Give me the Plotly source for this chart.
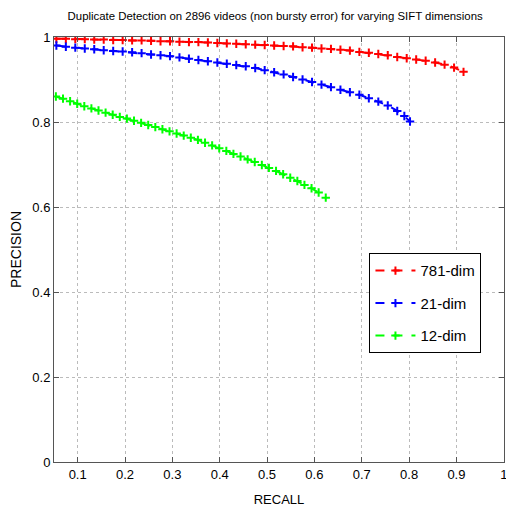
import plotly.graph_objects as go

# ---- data ----
red_x = [0.055, 0.075, 0.095, 0.115, 0.135, 0.155, 0.175, 0.195, 0.215, 0.235, 0.255, 0.275,
         0.295, 0.315, 0.335, 0.355, 0.375, 0.395, 0.415, 0.435, 0.455, 0.475, 0.495, 0.515,
         0.535, 0.555, 0.575, 0.595, 0.615, 0.635, 0.655, 0.675, 0.695, 0.715, 0.735, 0.755,
         0.775, 0.795, 0.815, 0.835, 0.855, 0.875, 0.895, 0.915]
red_y = [0.996, 0.996, 0.995, 0.995, 0.994, 0.994, 0.993, 0.993, 0.992, 0.992, 0.991, 0.990,
         0.990, 0.989, 0.988, 0.988, 0.987, 0.986, 0.985, 0.984, 0.983, 0.982, 0.981, 0.980,
         0.979, 0.978, 0.976, 0.975, 0.973, 0.972, 0.970, 0.968, 0.965, 0.963, 0.960, 0.957,
         0.953, 0.950, 0.947, 0.944, 0.940, 0.935, 0.928, 0.918]

blue_x = [0.055, 0.075, 0.095, 0.115, 0.135, 0.155, 0.175, 0.195, 0.215, 0.235, 0.255, 0.275,
          0.295, 0.315, 0.335, 0.355, 0.375, 0.395, 0.415, 0.435, 0.455, 0.475, 0.495, 0.515,
          0.535, 0.555, 0.575, 0.595, 0.615, 0.635, 0.655, 0.675, 0.695, 0.715, 0.735, 0.755,
          0.775, 0.790, 0.802]
blue_y = [0.980, 0.977, 0.975, 0.973, 0.971, 0.969, 0.967, 0.966, 0.964, 0.962, 0.959, 0.957,
          0.955, 0.952, 0.949, 0.946, 0.943, 0.940, 0.937, 0.934, 0.931, 0.927, 0.922, 0.917,
          0.912, 0.906, 0.900, 0.894, 0.888, 0.882, 0.876, 0.870, 0.864, 0.856, 0.848, 0.839,
          0.826, 0.814, 0.801]

green_x = [0.054, 0.069, 0.084, 0.099, 0.114, 0.129, 0.144, 0.159, 0.174, 0.189, 0.204, 0.219,
           0.234, 0.249, 0.264, 0.279, 0.294, 0.309, 0.324, 0.339, 0.354, 0.369, 0.384, 0.399,
           0.414, 0.429, 0.444, 0.459, 0.474, 0.489, 0.504, 0.519, 0.534, 0.549, 0.564, 0.579,
           0.594, 0.609, 0.624]
green_y = [0.860, 0.855, 0.849, 0.843, 0.837, 0.832, 0.827, 0.822, 0.817, 0.812, 0.808, 0.803,
           0.798, 0.793, 0.788, 0.783, 0.778, 0.773, 0.768, 0.763, 0.758, 0.751, 0.745, 0.738,
           0.732, 0.725, 0.719, 0.712, 0.706, 0.699, 0.692, 0.685, 0.677, 0.669, 0.661, 0.652,
           0.644, 0.634, 0.622]

series_names = ["781-dim", "21-dim", "12-dim"]
series_colors = ["#ff0000", "#0000ff", "#00ff00"]

x_tickvals = [0.1, 0.2, 0.3, 0.4, 0.5, 0.6, 0.7, 0.8, 0.9, 1.0]
x_ticktext = ["0.1", "0.2", "0.3", "0.4", "0.5", "0.6", "0.7", "0.8", "0.9", "1"]
y_tickvals = [0, 0.2, 0.4, 0.6, 0.8, 1.0]
y_ticktext = ["0", "0.2", "0.4", "0.6", "0.8", "1"]

title_text = "Duplicate Detection on 2896 videos (non bursty error) for varying SIFT dimensions"

FONT = "Liberation Sans, Arial, sans-serif"

fig = go.Figure()
for xs, ys, name, col in zip([red_x, blue_x, green_x], [red_y, blue_y, green_y],
                             series_names, series_colors):
    fig.add_trace(go.Scatter(
        x=xs, y=ys, name=name, mode="lines+markers", legendgroup=name,
        line=dict(color=col, width=2, dash="dash"),
        marker=dict(symbol="cross-thin", size=6, color=col, line=dict(width=2, color=col)),
    ))

axis_common = dict(
    showline=True, linecolor="#555555", linewidth=1, mirror="ticks",
    ticks="inside", ticklen=5, tickcolor="#555555",
    showgrid=True, gridcolor="#bbbbbb", griddash="dot", gridwidth=1,
    zeroline=False, ticklabeloverflow="allow",
    tickfont=dict(family=FONT, size=13, color="#000000"),
)

# the page's default 8px body margin offsets the figure; size it to fit the window
fig.update_layout(
    width=506, height=504,
    margin=dict(l=34, r=7, t=29, b=45),
    paper_bgcolor="white", plot_bgcolor="white",
    title=dict(text=title_text, x=0.528, xanchor="center", y=0.993, yanchor="top",
               pad=dict(t=0, b=0),
               font=dict(family=FONT, size=11.4, color="#000000")),
    xaxis=dict(range=[0.05, 1.0005], tickvals=x_tickvals, ticktext=x_ticktext,
               title=dict(text="RECALL", font=dict(family=FONT, size=13, color="#000000"), standoff=14),
               **axis_common),
    yaxis=dict(range=[0, 1.0], tickvals=y_tickvals, ticktext=y_ticktext,
               title=dict(text="PRECISION", font=dict(family=FONT, size=14, color="#000000"), standoff=8),
               **axis_common),
    legend=dict(x=0.701, y=0.491, xanchor="left", yanchor="top",
                bordercolor="#000000", borderwidth=1, bgcolor="white",
                font=dict(family=FONT, size=15, color="#000000"),
                itemwidth=40, tracegroupgap=10),
    showlegend=True,
)

fig.write_html("out.html")
